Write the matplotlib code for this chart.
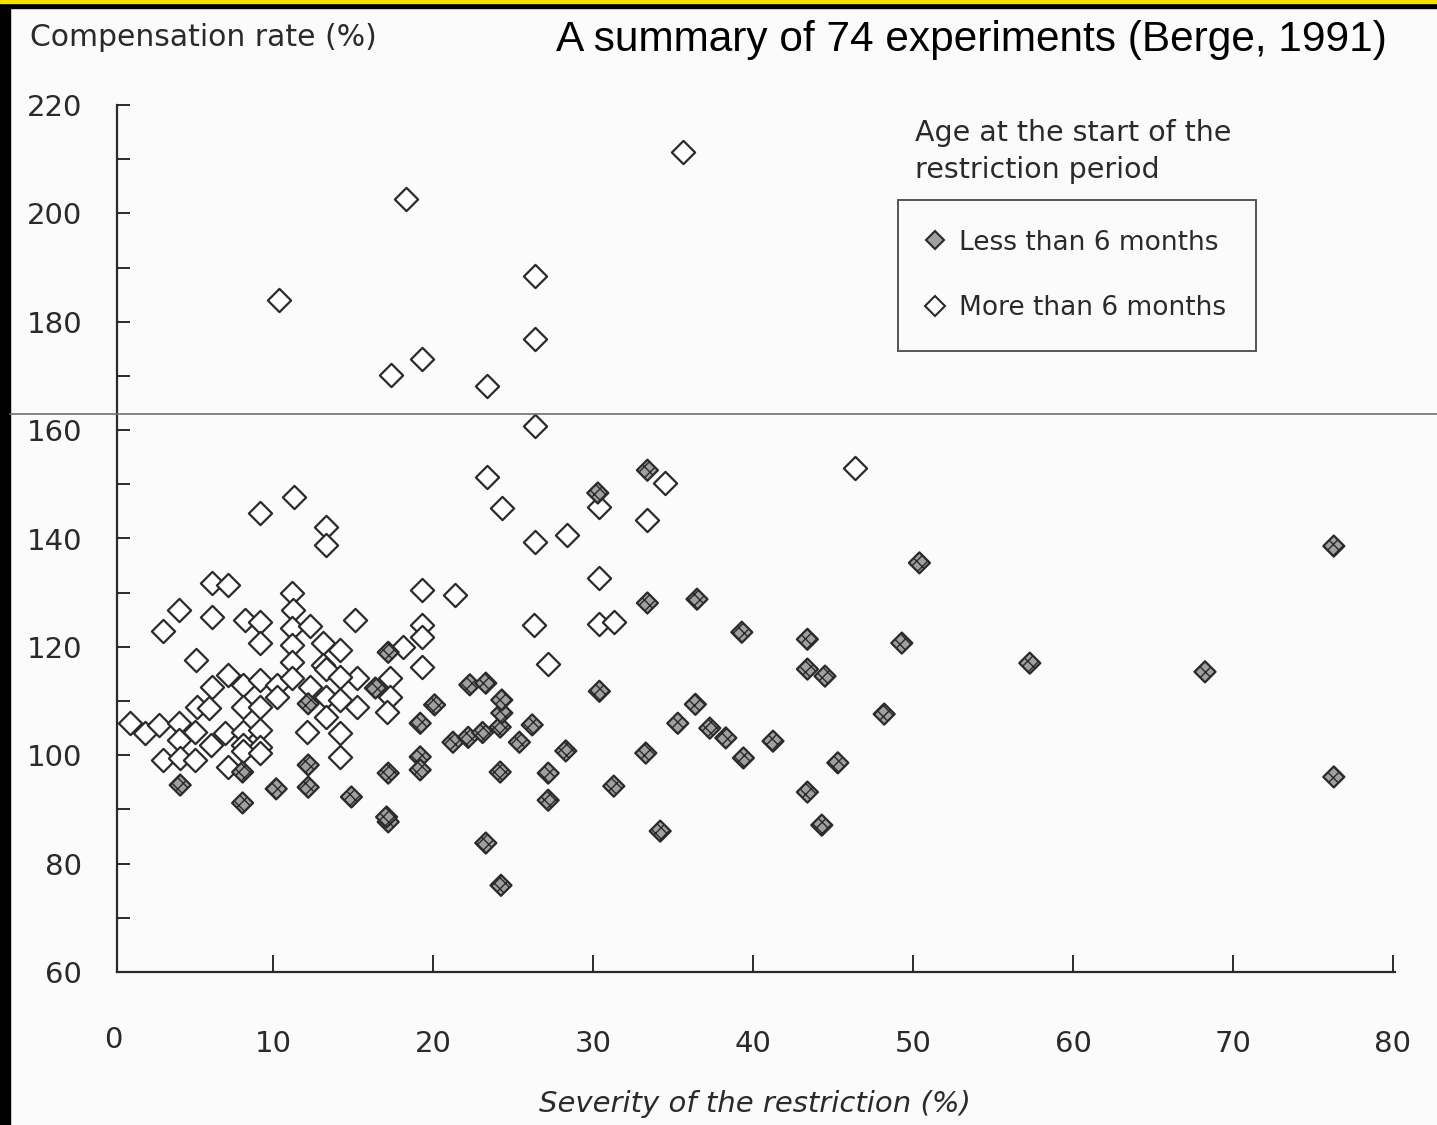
import matplotlib
matplotlib.use('Agg')
import matplotlib.pyplot as plt
from matplotlib.lines import Line2D
from matplotlib.patches import Rectangle

# severity of restriction (%) vs compensation rate (%)
young_x = [4.2, 8.1, 8.1, 10.2, 12.2, 12.2, 12.2, 14.9, 17.2, 17.2, 17.1, 17.2, 16.4,
           19.2, 19.2, 19.2, 20.1, 22.3, 23.3, 21.25, 22.2, 23.1, 24.2, 24.3, 24.3,
           25.4, 26.2, 24.2, 23.3, 24.25, 27.2, 27.2, 28.3, 30.3, 30.4, 31.3, 33.3,
           33.4, 33.4, 34.2, 35.3, 36.4, 36.5, 37.3, 38.3, 39.4, 39.3, 41.25, 43.4,
           43.4, 44.5, 43.4, 44.3, 45.3, 48.2, 49.3, 50.4, 57.3, 68.25, 76.3, 76.3]
young_y = [94.5, 91.2, 96.9, 93.8, 94.1, 98.2, 109.5, 92.3, 87.7, 96.7, 88.6, 119.0, 112.4,
           105.9, 99.7, 97.3, 109.3, 113.0, 113.3, 102.4, 103.3, 104.2, 105.2, 107.8, 110.2,
           102.4, 105.6, 96.9, 83.8, 76.0, 96.7, 91.7, 100.8, 148.4, 111.8, 94.3, 100.4,
           128.1, 152.6, 86.0, 105.9, 109.4, 128.8, 105.0, 103.2, 99.5, 122.7, 102.6, 121.4,
           115.9, 114.6, 93.2, 87.1, 98.6, 107.6, 120.7, 135.5, 117.0, 115.4, 138.6, 96.0]

older_x = [35.6, 18.3, 26.4, 10.4, 26.4, 19.3, 17.4, 23.4, 26.4, 46.4, 23.4, 24.3, 11.3,
           9.2, 13.3, 13.3, 26.4, 28.4, 30.4, 33.4, 34.5, 30.4, 19.3, 21.4, 6.2, 7.2,
           11.2, 11.25, 4.1, 6.2, 8.25, 9.2, 3.1, 11.2, 12.3, 9.2, 13.1, 11.2, 5.2, 11.2,
           13.1, 7.2, 8.1, 9.2, 10.25, 11.2, 6.2, 12.3, 5.25, 6.0, 8.1, 9.2, 10.25, 1.06,
           2.0, 2.9, 4.1, 4.1, 5.1, 6.1, 7.0, 8.1, 9.2, 8.1, 9.2, 12.1, 3.1, 4.2, 5.1,
           7.2, 8.1, 9.2, 15.1, 19.3, 19.3, 18.1, 19.3, 26.3, 14.2, 13.3, 15.25, 14.2,
           17.3, 17.3, 17.1, 13.3, 14.2, 15.25, 13.3, 14.2, 14.2, 27.2, 30.4, 31.3]
older_y = [211.3, 202.6, 188.4, 184.0, 176.8, 173.1, 170.1, 168.1, 160.7, 153.0, 151.3, 145.6, 147.6,
           144.7, 142.1, 138.8, 139.3, 140.6, 145.8, 143.4, 150.2, 132.7, 130.5, 129.6, 131.8, 131.4,
           130.0, 126.8, 126.8, 125.5, 125.0, 124.6, 123.0, 123.5, 123.9, 120.7, 120.7, 120.3, 117.6, 117.2,
           116.6, 114.8, 113.0, 113.8, 113.0, 114.2, 112.6, 112.6, 108.9, 108.7, 108.9, 108.9, 110.8, 106.0,
           104.1, 105.6, 106.0, 102.8, 104.3, 101.9, 104.1, 104.3, 104.6, 101.9, 101.5, 104.3, 99.1, 99.5, 99.1,
           97.8, 100.8, 100.4, 124.9, 124.0, 121.8, 120.0, 116.3, 124.1, 119.4, 116.0, 114.2, 114.4,
           114.2, 110.7, 108.0, 110.8, 110.2, 108.9, 107.0, 104.1, 99.7, 116.8, 124.2, 124.6]

x_ticks = [0, 10, 20, 30, 40, 50, 60, 70, 80]
y_ticks = [60, 80, 100, 120, 140, 160, 180, 200, 220]

W, H = 1437, 1125
ink = '#2a2a2a'
fig = plt.figure(figsize=(W / 100, H / 100), dpi=100, facecolor='#fbfbfb')
ax = fig.add_axes([117 / W, 1 - 972 / H, (1395 - 117) / W, (972 - 105) / H])
ax.set_facecolor('none')

ax.scatter(older_x, older_y, marker='D', s=140, facecolor='white',
           edgecolor=ink, linewidth=1.6, zorder=3)
ax.scatter(young_x, young_y, marker='D', s=115, facecolor='#a0a0a0',
           edgecolor=ink, linewidth=1.6, hatch='xxx', zorder=4)

ax.set_xlim(0.25, 80.125)
ax.set_ylim(60, 220)
for side in ('top', 'right'):
    ax.spines[side].set_visible(False)
for side in ('left', 'bottom'):
    ax.spines[side].set_color(ink)
    ax.spines[side].set_linewidth(1.6)

# the 0 label sits just left of the y spine, so it is placed by hand
ax.set_xticks(x_ticks[1:])
ax.set_yticks(y_ticks)
ax.set_yticks(range(70, 220, 20), minor=True)
ax.tick_params(axis='y', which='both', direction='in', length=9, width=1.4,
               color=ink, labelsize=21, labelcolor=ink, pad=25)
ax.tick_params(axis='x', direction='in', length=12, width=1.4, color=ink,
               labelsize=21, labelcolor=ink, pad=42)
fig.text(113 / W, 1 - 1040 / H, str(x_ticks[0]), fontsize=21, color=ink,
         ha='center', va='center')

fig.text(30 / W, 1 - 38 / H, 'Compensation rate (%)', fontsize=21.5, color=ink,
         ha='left', va='center')
fig.text(556 / W, 1 - 40 / H, 'A summary of 74 experiments (Berge, 1991)',
         fontsize=30.5, color='black', ha='left', va='center', family='Liberation Sans')
fig.text(755 / W, 1 - 1104 / H, 'Severity of the restriction (%)', fontsize=21,
         color=ink, ha='center', va='center', style='italic')

fig.text(915 / W, 1 - 119 / H, 'Age at the start of the\nrestriction period',
         fontsize=20.5, color=ink, ha='left', va='top', linespacing=1.42)
handles = [
    Line2D([], [], linestyle='none', marker='D', markersize=9, markerfacecolor='#a0a0a0',
           markeredgecolor=ink, markeredgewidth=1.5, label='Less than 6 months'),
    Line2D([], [], linestyle='none', marker='D', markersize=10, markerfacecolor='white',
           markeredgecolor=ink, markeredgewidth=1.5, label='More than 6 months'),
]
leg = fig.legend(handles=handles, loc='upper left', bbox_to_anchor=(898 / W, 1 - 200 / H),
                 fontsize=19, frameon=True, fancybox=False, edgecolor=ink,
                 labelspacing=1.5, handletextpad=0.6, handlelength=0.6,
                 borderpad=1.12, borderaxespad=0)
leg.get_frame().set_linewidth(1.4)
leg.get_frame().set_facecolor('#fbfbfb')
for t in leg.get_texts():
    t.set_color(ink)

# page edges and the thin rule across the sheet
fig.add_artist(Rectangle((0, 0), 10 / W, 1, transform=fig.transFigure, color='black', zorder=10))
fig.add_artist(Rectangle((0, 1 - 8 / H), 1, 8 / H, transform=fig.transFigure, color='black', zorder=10))
fig.add_artist(Rectangle((0, 1 - 2.5 / H), 1, 2.5 / H, transform=fig.transFigure, color='#f5e000', zorder=11))
fig.add_artist(Line2D([10 / W, 1], [1 - 414 / H, 1 - 414 / H], transform=fig.transFigure,
                      color='#707070', linewidth=1.2, zorder=10))

fig.savefig('out.png', dpi=100, facecolor=fig.get_facecolor())
